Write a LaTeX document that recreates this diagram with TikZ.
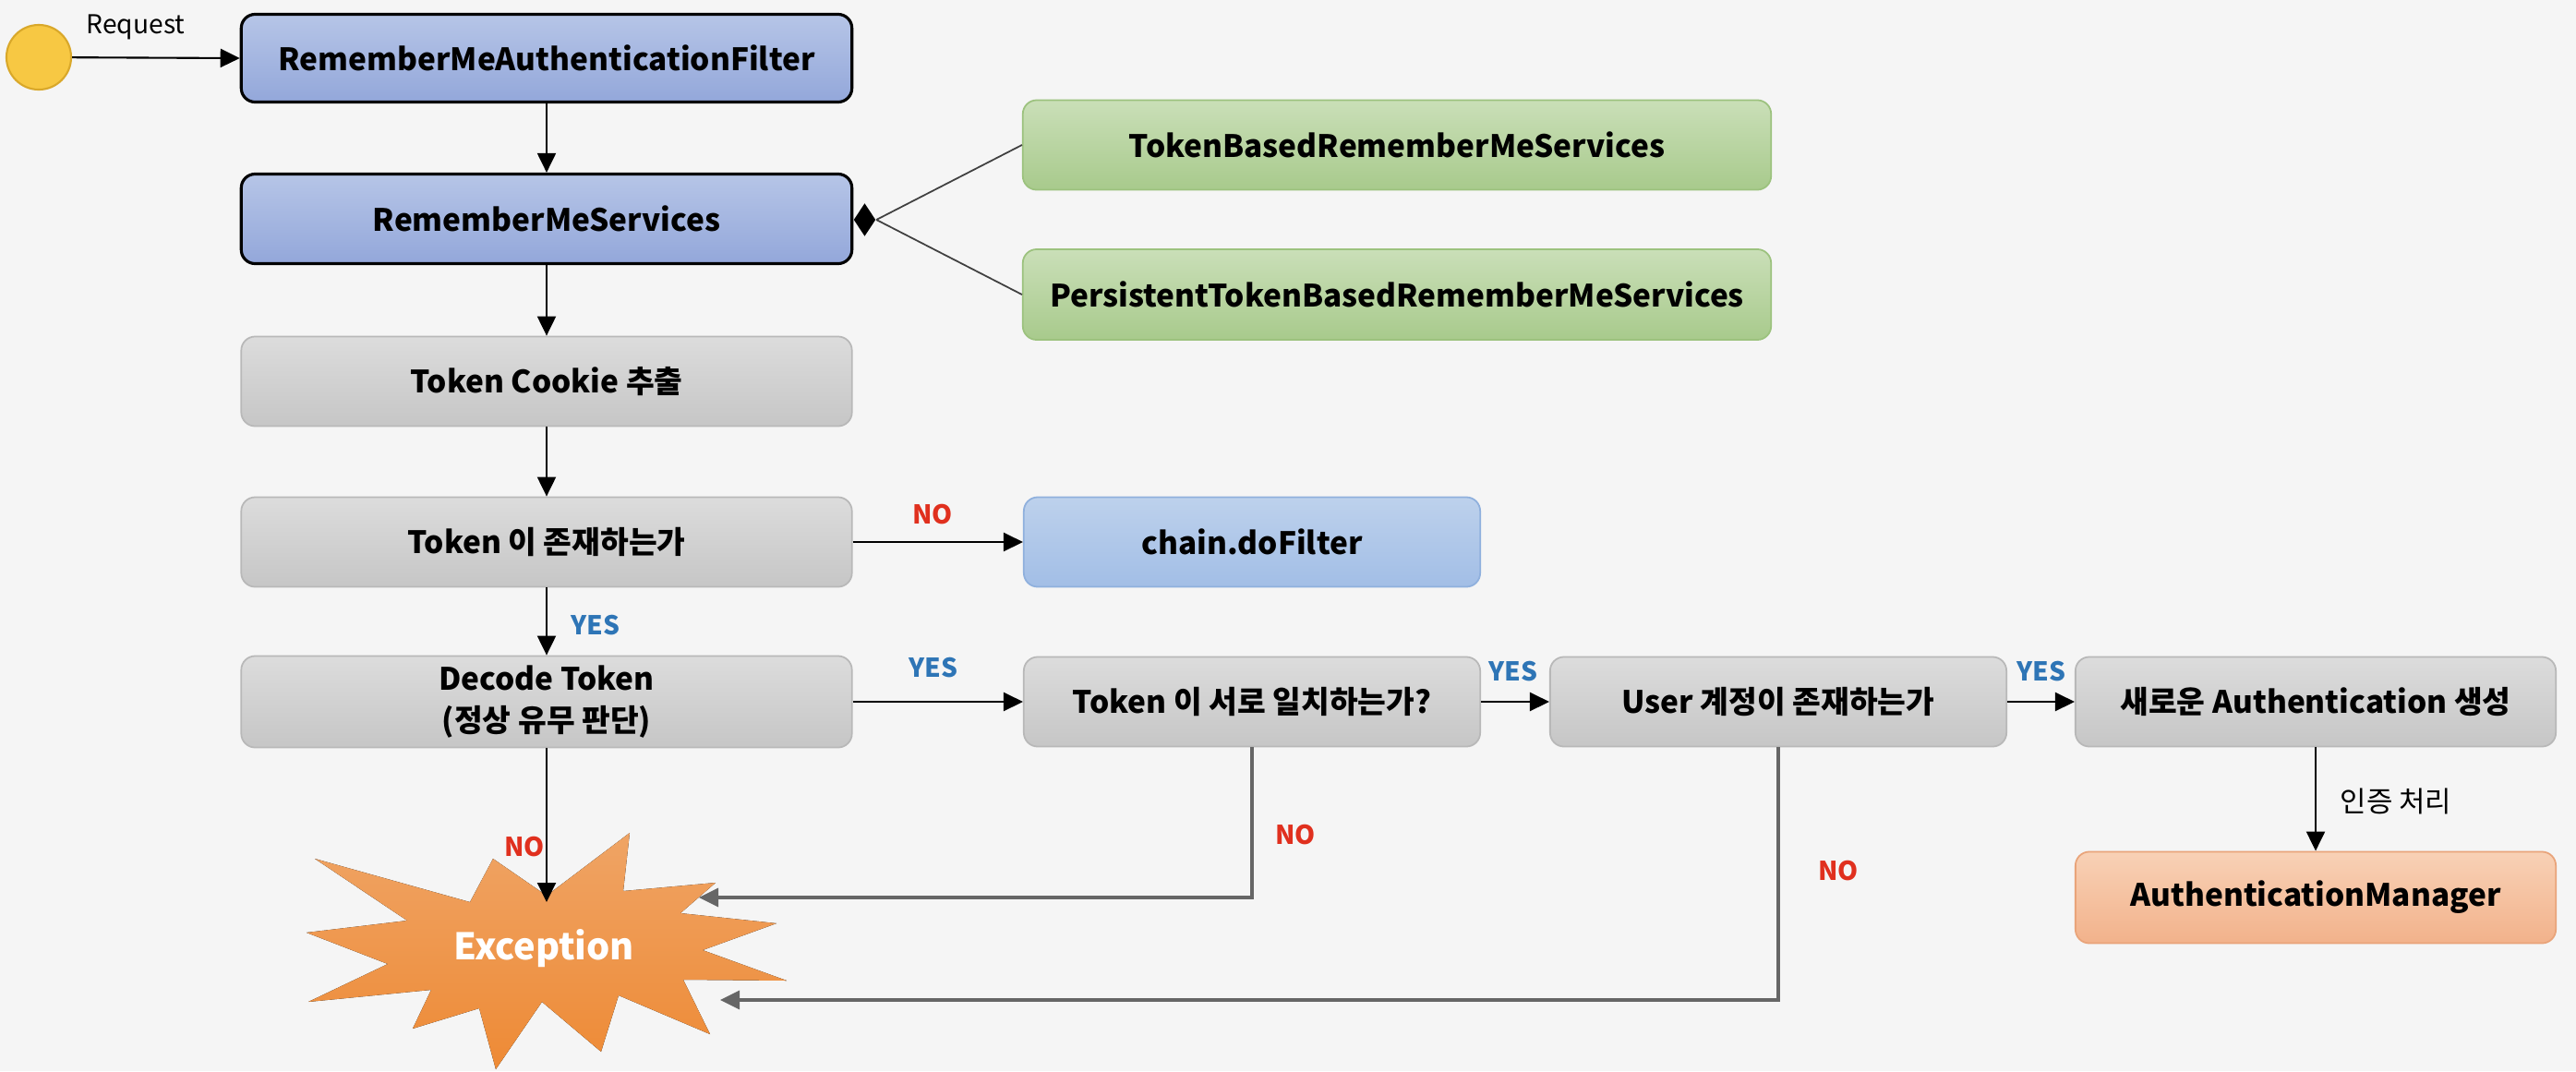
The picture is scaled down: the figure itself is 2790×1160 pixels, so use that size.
\documentclass[tikz,border=0pt]{standalone}
\usepackage{fontspec}
\setmainfont{Noto Sans CJK KR}
\usetikzlibrary{arrows.meta,shapes.geometric,shadings}
\definecolor{bg}{HTML}{F5F5F5}
\definecolor{blueT}{HTML}{B6C5E7}
\definecolor{blueB}{HTML}{93A7DA}
\definecolor{greenT}{HTML}{CADFB8}
\definecolor{greenB}{HTML}{A8CA8C}
\definecolor{greenD}{HTML}{9CC27E}
\definecolor{grayT}{HTML}{DCDCDC}
\definecolor{grayB}{HTML}{C6C6C6}
\definecolor{grayD}{HTML}{B8B8B8}
\definecolor{chainT}{HTML}{BDD1EC}
\definecolor{chainB}{HTML}{A2BEE6}
\definecolor{chainD}{HTML}{8FB0DD}
\definecolor{mgrT}{HTML}{F8D1B6}
\definecolor{mgrB}{HTML}{F2B28B}
\definecolor{mgrD}{HTML}{E9A47A}
\definecolor{excT}{HTML}{EFA465}
\definecolor{excB}{HTML}{EE8A35}
\definecolor{yescol}{HTML}{2E75B6}
\definecolor{nocol}{HTML}{E0301E}
\definecolor{yel}{HTML}{F7C843}
\definecolor{yelD}{HTML}{D9A82A}
\begin{document}
\begin{tikzpicture}[x=0.01cm,y=-0.01cm,
  box/.style={rounded corners=0.15cm, minimum height=0.97cm, align=center, inner sep=0pt,
    font=\bfseries\fontsize{9.5}{13}\selectfont},
  bluebox/.style={box, draw=black, line width=0.9pt, top color=blueT, bottom color=blueB},
  greenbox/.style={box, draw=greenD, line width=0.5pt, top color=greenT, bottom color=greenB, minimum width=8.1cm},
  graybox/.style={box, draw=grayD, line width=0.5pt, top color=grayT, bottom color=grayB},
  chainbox/.style={box, draw=chainD, line width=0.5pt, top color=chainT, bottom color=chainB},
  mgrbox/.style={box, draw=mgrD, line width=0.5pt, top color=mgrT, bottom color=mgrB},
  wide/.style={minimum width=6.61cm},
  mid/.style={minimum width=4.94cm},
  arr/.style={-{Triangle[length=0.21cm,width=0.2cm]}, line width=0.6pt, black},
  exarr/.style={-{Triangle[length=0.21cm,width=0.2cm]}, line width=0.9pt, black!60},
  yeslab/.style={text=yescol, font=\bfseries\fontsize{8}{10}\selectfont, inner sep=0pt},
  nolab/.style={text=nocol, font=\bfseries\fontsize{8}{10}\selectfont, inner sep=0pt},
  plainlab/.style={font=\fontsize{8}{10}\selectfont, inner sep=0pt}
]
\fill[bg] (0,0) rectangle (2790,1160);
\useasboundingbox (0,0) rectangle (2790,1160);

% start circle
\node[circle, draw=yelD, line width=0.6pt, fill=yel, minimum size=0.7cm, inner sep=0pt] (circ) at (42,62) {};

% nodes
\node[bluebox, wide, minimum height=0.95cm] (filter) at (592,63) {RememberMeAuthenticationFilter};
\node[bluebox, wide] (services) at (592,237) {RememberMeServices};
\node[greenbox] (tok) at (1513,157) {TokenBasedRememberMeServices};
\node[greenbox, minimum height=0.98cm] (pers) at (1513,319) {PersistentTokenBasedRememberMeServices};
\node[graybox, wide] (cookie) at (592,413) {Token Cookie 추출};
\node[graybox, wide] (exists) at (592,587) {Token 이 존재하는가};
\node[chainbox, mid] (chain) at (1356,587) {chain.doFilter};
\node[graybox, wide, minimum height=0.99cm] (decode) at (592,760) {Decode Token\\(정상 유무 판단)};
\node[graybox, mid] (match) at (1356,760) {Token 이 서로 일치하는가?};
\node[graybox, mid] (user) at (1926,760) {User 계정이 존재하는가};
\node[graybox, minimum width=5.2cm] (newauth) at (2508,760) {새로운 Authentication 생성};
\node[mgrbox, minimum width=5.2cm, minimum height=0.99cm] (mgr) at (2508,972) {AuthenticationManager};

% composition diamond
\node[diamond, fill=black, inner sep=0pt, minimum width=0.24cm, minimum height=0.36cm] (dia) at (936.5,238) {};

% exception starburst
\fill[top color=excT, bottom color=excB]
  (341,930) -- (509,977) -- (534,930) -- (592,970) -- (682,902) -- (675,965)
  -- (775,956) -- (737,989) -- (841,1000) -- (761,1029) -- (852,1062) -- (740,1061)
  -- (769,1120) -- (670,1078) -- (651,1139) -- (587,1085) -- (537,1158) -- (519,1092)
  -- (447,1114) -- (467,1072) -- (334,1085) -- (420,1044) -- (332,1010) -- (441,997) -- cycle;
\node[text=white, font=\bfseries\fontsize{11.3}{14}\selectfont, inner sep=0pt] (exc) at (589,1027) {Exception};
\coordinate (excTop) at (592,977);
\coordinate (excR1) at (757,972);
\coordinate (excR2) at (780,1083);

% connectors
\draw[arr] (circ) -- (filter.west);
\node[plainlab] (req) at (147,29) {Request};
\draw[arr] (filter) -- (services);
\draw[arr] (services) -- (cookie);
\draw[arr] (cookie) -- (exists);
\draw[arr] (exists) -- (decode);
\node[yeslab] (yes1) at (645,677) {YES};
\draw[arr] (exists) -- (chain);
\node[nolab] (no1) at (1010,557) {NO};
\draw[arr] (decode) -- (match);
\node[yeslab] (yes2) at (1011,723) {YES};
\draw[arr] (match) -- (user);
\node[yeslab] (yes3) at (1639,727) {YES};
\draw[arr] (user) -- (newauth);
\node[yeslab] (yes4) at (2211,727) {YES};
\draw[arr] (newauth) -- (mgr);
\node[plainlab, font=\fontsize{8.8}{10}\selectfont] (auth) at (2595,868) {인증 처리};

\draw[line width=0.5pt, black!75] (tok.west) -- (dia.east);
\draw[line width=0.5pt, black!75] (pers.west) -- (dia.east);

\draw[arr] (decode.south) -- (excTop);
\node[nolab] (no2) at (568,917) {NO};
\draw[exarr] (match.south) |- (excR1);
\node[nolab] (no3) at (1403,904) {NO};
\draw[exarr] (user.south) |- (excR2);
\node[nolab] (no4) at (1991,943) {NO};
\end{tikzpicture}
\end{document}
